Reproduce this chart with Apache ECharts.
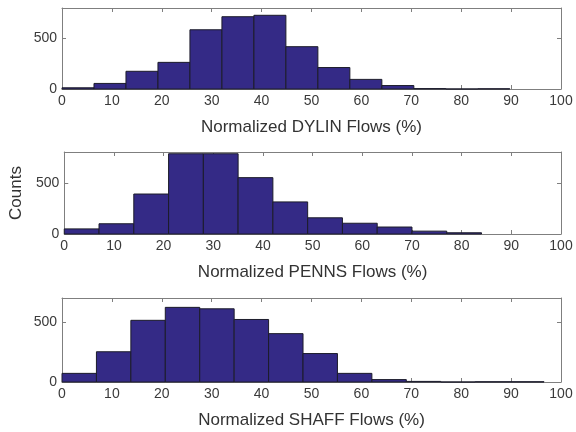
<!DOCTYPE html>
<html>
<head>
<meta charset="utf-8">
<script src="https://cdn.jsdelivr.net/npm/echarts@6/dist/echarts.min.js"></script>
<style>
  html, body { margin: 0; padding: 0; background: #fff; }
  #chart { width: 576px; height: 432px; }
</style>
</head>
<body>
<div id="chart"></div>
<script>
// bin edges (MATLAB hist, equal-width bins)
var dylinEdges = [0, 6.41, 12.82, 19.23, 25.64, 32.05, 38.46, 44.87, 51.28, 57.69, 64.1, 70.51, 76.92, 83.33, 89.74];
var dylinCounts = [12, 55, 175, 263, 585, 714, 728, 418, 212, 95, 34, 4, 0, 2];

var pennsEdges = [0, 7, 14, 21, 28, 35, 42, 49, 56, 63, 70, 77, 84];
var pennsCounts = [50, 100, 390, 783, 783, 550, 313, 158, 105, 68, 28, 12];

var shaffEdges = [0, 6.9, 13.8, 20.7, 27.6, 34.5, 41.4, 48.3, 55.2, 62.1, 69, 75.9, 82.8, 89.7, 96.6];
var shaffCounts = [72, 252, 514, 622, 610, 521, 403, 237, 72, 20, 5, 0, 2, 2];

var xNames = ['Normalized DYLIN Flows (%)', 'Normalized PENNS Flows (%)', 'Normalized SHAFF Flows (%)'];
var yMax = [800, 800, 700];

(function(){
    var myChart = echarts.init(document.getElementById('chart'));

    var axisGray = '#7f7f7f';
    var labelColor = '#3a3a3a';
    var fontFam = '"Liberation Sans", Arial, sans-serif';

    var grids = [
        {left: 62, right: 15, top: 8, height: 81},
        {left: 62, right: 15, top: 152, height: 82},
        {left: 62, right: 15, top: 298, height: 84}
    ];

    function toBins(edges, counts){
        var out = [];
        for (var i = 0; i < counts.length; i++) {
            out.push([edges[i], edges[i + 1], counts[i]]);
        }
        return out;
    }
    var binData = [toBins(dylinEdges, dylinCounts), toBins(pennsEdges, pennsCounts), toBins(shaffEdges, shaffCounts)];

    function renderBin(params, api){
        var p0 = api.coord([api.value(0), 0]);
        var p1 = api.coord([api.value(1), api.value(2)]);
        return {
            type: 'rect',
            shape: {x: p0[0], y: p1[1], width: p1[0] - p0[0], height: p0[1] - p1[1]},
            style: {fill: '#342a86', stroke: '#1c1c2a', lineWidth: 1}
        };
    }

    var xAxes = [], yAxes = [], series = [];
    for (var g = 0; g < 3; g++) {
        // bottom x axis with labels
        xAxes.push({
            type: 'value', gridIndex: g, position: 'bottom', min: 0, max: 100, interval: 10,
            name: xNames[g], nameLocation: 'middle', nameGap: 30,
            nameTextStyle: {color: '#333', fontSize: 17, fontFamily: fontFam},
            axisLine: {onZero: false, lineStyle: {color: axisGray}},
            axisTick: {inside: true, length: 4, lineStyle: {color: axisGray}},
            axisLabel: {color: labelColor, fontSize: 14, fontFamily: fontFam, margin: 5},
            splitLine: {show: false}
        });
        // top x axis, ticks only
        xAxes.push({
            type: 'value', gridIndex: g, position: 'top', min: 0, max: 100, interval: 10,
            axisLine: {onZero: false, lineStyle: {color: axisGray}},
            axisTick: {inside: true, length: 4, lineStyle: {color: axisGray}},
            axisLabel: {show: false},
            splitLine: {show: false}
        });
        yAxes.push({
            type: 'value', gridIndex: g, position: 'left', min: 0, max: yMax[g], interval: 500,
            name: g === 1 ? 'Counts' : '', nameLocation: 'middle', nameGap: 34,
            nameTextStyle: {color: '#333', fontSize: 17, fontFamily: fontFam},
            axisLine: {show: true, onZero: false, lineStyle: {color: axisGray}},
            axisTick: {show: true, inside: true, length: 4, lineStyle: {color: axisGray}},
            axisLabel: {color: labelColor, fontSize: 14, fontFamily: fontFam, margin: 5, showMaxLabel: false},
            splitLine: {show: false}
        });
        yAxes.push({
            type: 'value', gridIndex: g, position: 'right', min: 0, max: yMax[g], interval: 500,
            axisLine: {show: true, onZero: false, lineStyle: {color: axisGray}},
            axisTick: {show: true, inside: true, length: 4, lineStyle: {color: axisGray}},
            axisLabel: {show: false},
            splitLine: {show: false}
        });
        series.push({
            type: 'custom',
            xAxisIndex: g * 2,
            yAxisIndex: g * 2,
            renderItem: renderBin,
            encode: {x: [0, 1], y: 2},
            data: binData[g],
            silent: true
        });
    }

    var option = {
        backgroundColor: '#ffffff',
        animation: false,
        grid: grids,
        xAxis: xAxes,
        yAxis: yAxes,
        series: series
    };

    myChart.setOption(option);
})();
</script>
</body>
</html>
